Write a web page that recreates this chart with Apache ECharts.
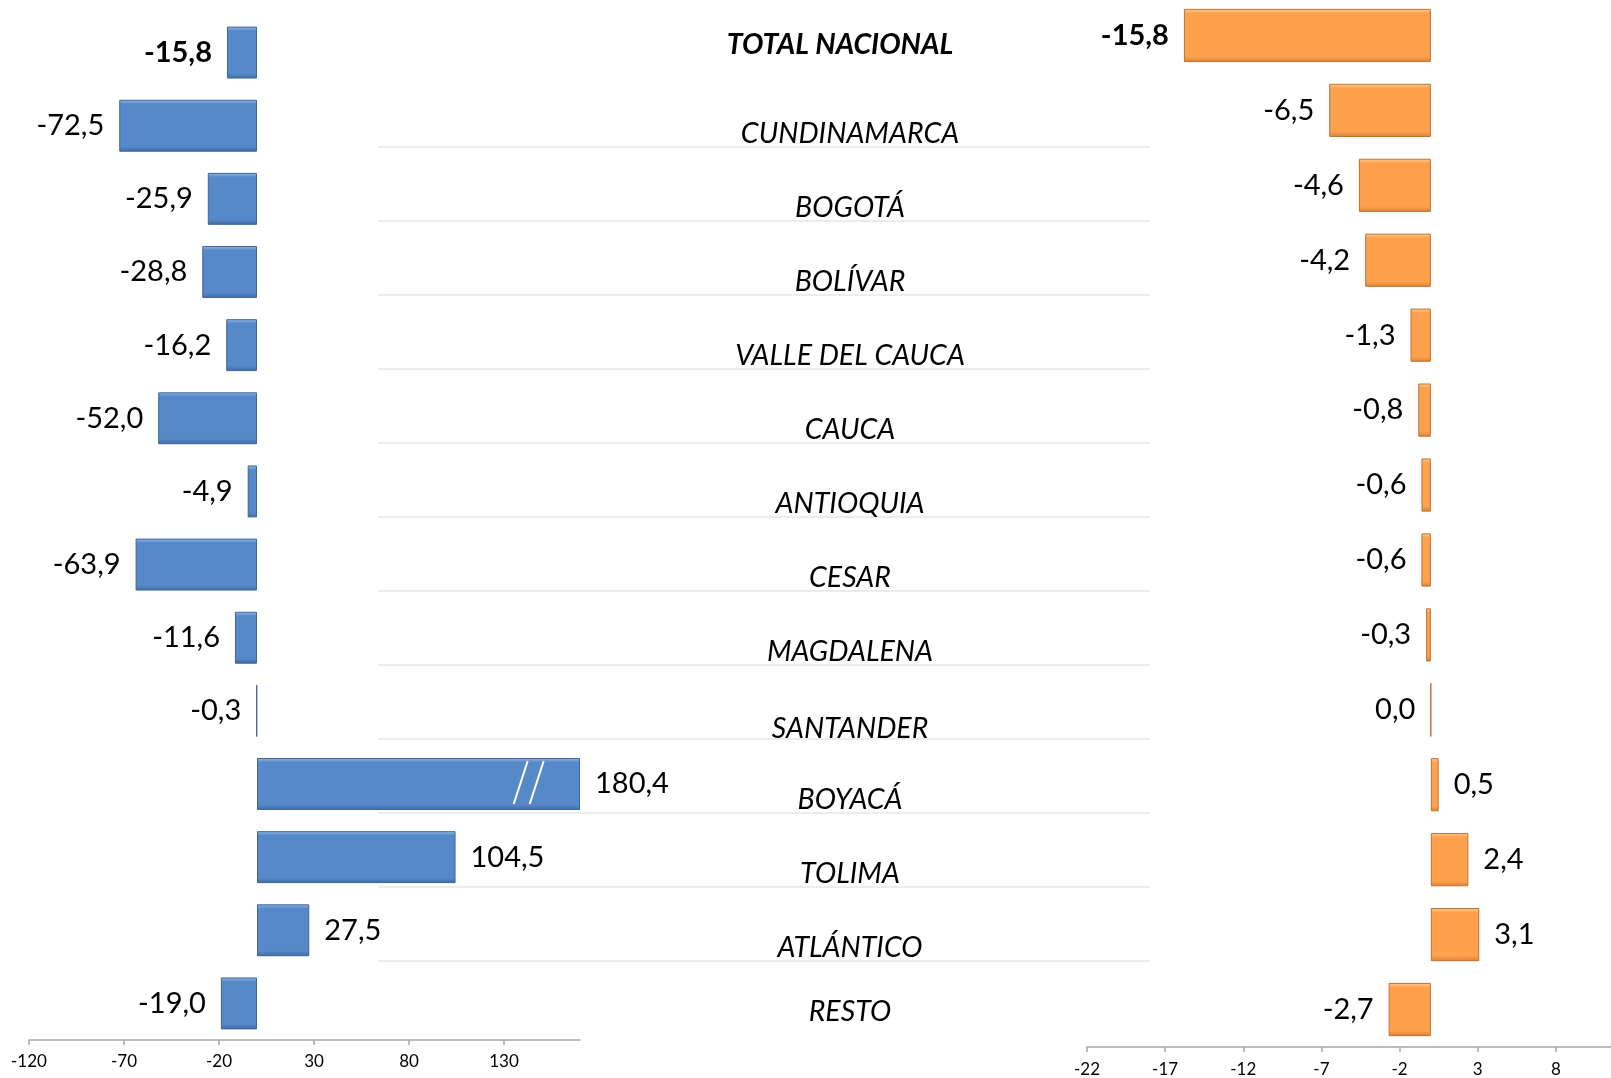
<!DOCTYPE html>
<html>
<head>
<meta charset="utf-8">
<script src="https://cdn.jsdelivr.net/npm/echarts@6/dist/echarts.min.js"></script>
<style>
html, body { margin: 0; padding: 0; background: #fff; }
#container { width: 1611px; height: 1078px; }
</style>
</head>
<body>
<div id="container"></div>
<script>
let chart = echarts.init(document.getElementById('container'));

let departamentos = ['TOTAL NACIONAL', 'CUNDINAMARCA', 'BOGOTÁ', 'BOLÍVAR', 'VALLE DEL CAUCA', 'CAUCA', 'ANTIOQUIA',
    'CESAR', 'MAGDALENA', 'SANTANDER', 'BOYACÁ', 'TOLIMA', 'ATLÁNTICO', 'RESTO'];
let variacion = [-15.8, -72.5, -25.9, -28.8, -16.2, -52.0, -4.9, -63.9, -11.6, -0.3, 180.4, 104.5, 27.5, -19.0];
let contribucion = [-15.8, -6.5, -4.6, -4.2, -1.3, -0.8, -0.6, -0.6, -0.3, 0.0, 0.5, 2.4, 3.1, -2.7];
let leftTicks = [-120, -70, -20, 30, 80, 130];
let rightTicks = [-22, -17, -12, -7, -2, 3, 8];
let leftMin = -120, leftMax = 170;   // bars longer than this get cut with a break mark
let rightMin = -22, rightMax = 13;
let breakValue = 143;

var font = 'Lato, Carlito, Calibri, sans-serif';

function fmt(v) {
    return v.toFixed(1).replace('.', ',');
}

function barStyle(light, main, dark, border) {
    return {
        color: new echarts.graphic.LinearGradient(0, 0, 0, 1, [
            {offset: 0, color: light},
            {offset: 0.08, color: main},
            {offset: 0.9, color: main},
            {offset: 1, color: dark}
        ]),
        borderColor: border,
        borderWidth: 1
    };
}

function valueItems(values, cap) {
    return values.map((v, i) => ({
        value: cap != null ? Math.min(v, cap) : v,
        label: {
            position: v > 0 ? 'right' : 'left',
            fontWeight: i == 0 ? 'bold' : 'normal'
        }
    }));
}

function valueAxis(grid, min, max, ticks, margin) {
    return {
        type: 'value', gridIndex: grid, min: min, max: max,
        splitLine: {show: false},
        axisLine: {show: true, onZero: false, lineStyle: {color: '#a6a6a6', width: 1.5}},
        axisTick: {show: true, length: 5, customValues: ticks, lineStyle: {color: '#a6a6a6', width: 1.5}},
        axisLabel: {customValues: ticks, color: '#000', fontFamily: font, fontSize: 17, margin: margin}
    };
}

function catAxis(grid) {
    return {type: 'category', gridIndex: grid, data: departamentos, inverse: true, show: false};
}

var valueLabel = {
    show: true,
    distance: 15,
    color: '#000',
    fontFamily: font,
    fontSize: 29
};

// thin grey separator under each name, none under the first and last
var sepData = departamentos.map((d, i) => {
    var item = {value: 1};
    if (i == 0 || i == departamentos.length - 1) {
        item.itemStyle = {color: 'rgba(0,0,0,0)'};
    }
    if (i == 0) {
        item.label = {fontWeight: 'bold', offset: [76, -28]};
    }
    if (d == 'SANTANDER') {
        item.label = {offset: [86, -10]};
    }
    if (i == departamentos.length - 1) {
        item.label = {offset: [86, -23]};
    }
    return item;
});

var option = {
    animation: false,
    grid: [
        {left: 29, right: 1031, top: 16, bottom: 38, outerBoundsMode: 'none'},
        {left: 378, right: 461, top: 36, bottom: 6, outerBoundsMode: 'none'},
        {left: 1087, right: -23, top: -2, bottom: 31, outerBoundsMode: 'none'}
    ],
    xAxis: [
        valueAxis(0, leftMin, leftMax, leftTicks, 13),
        {type: 'value', gridIndex: 1, min: 0, max: 1, show: false},
        valueAxis(2, rightMin, rightMax, rightTicks, 14)
    ],
    yAxis: [catAxis(0), catAxis(1), catAxis(2)],
    series: [
        {
            type: 'bar', xAxisIndex: 0, yAxisIndex: 0,
            barWidth: '71%',
            data: valueItems(variacion, leftMax),
            itemStyle: barStyle('#9bbde9', '#5689c9', '#3f6aa2', '#3d6597'),
            label: Object.assign({}, valueLabel, {
                formatter: p => fmt(variacion[p.dataIndex])
            })
        },
        {
            type: 'bar', xAxisIndex: 1, yAxisIndex: 1,
            barWidth: 2,
            data: sepData,
            itemStyle: {color: '#ececec'},
            label: {
                show: true,
                position: 'inside',
                offset: [86, -13],
                color: '#000',
                fontFamily: font,
                fontStyle: 'italic',
                fontSize: 28.5,
                formatter: p => departamentos[p.dataIndex]
            }
        },
        {
            type: 'bar', xAxisIndex: 2, yAxisIndex: 2,
            barWidth: '71%',
            data: valueItems(contribucion, null),
            itemStyle: barStyle('#ffd2a0', '#ffa04d', '#d9823a', '#bb7333'),
            label: Object.assign({}, valueLabel, {
                formatter: p => fmt(contribucion[p.dataIndex])
            })
        }
    ]
};

chart.setOption(option);

// break mark on the bar that runs past the axis
var graphics = [];
variacion.forEach((v, i) => {
    if (v <= leftMax) { return; }
    var p = chart.convertToPixel({xAxisIndex: 0, yAxisIndex: 0}, [breakValue, i]);
    [-8, 8].forEach(dx => {
        graphics.push({
            type: 'line',
            z: 100,
            shape: {x1: p[0] + dx - 7, y1: p[1] + 20, x2: p[0] + dx + 7, y2: p[1] - 23},
            style: {stroke: '#fff', lineWidth: 2}
        });
    });
});
chart.setOption({graphic: {elements: graphics}});
</script>
</body>
</html>
